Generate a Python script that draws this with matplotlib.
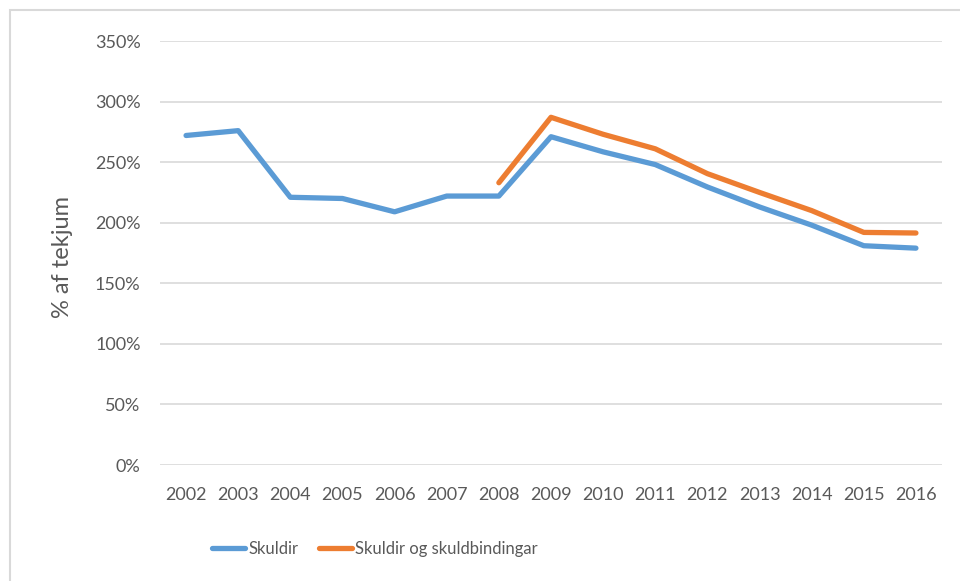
import matplotlib
matplotlib.use("Agg")
import matplotlib.pyplot as plt
from matplotlib.patches import Rectangle
import numpy as np

years = ["2002", "2003", "2004", "2005", "2006", "2007", "2008", "2009",
         "2010", "2011", "2012", "2013", "2014", "2015", "2016"]
skuldir = [272, 276, 221, 220, 209, 222, 222, 271, 258.5, 248, 229.5, 213, 198, 181, 179]
skuldbindingar = [None, None, None, None, None, None, 233, 287, 273, 261, 240.5, 225, 210, 192, 191.5]
yticks = [0, 50, 100, 150, 200, 250, 300, 350]

plt.rcParams['font.family'] = ['Lato', 'DejaVu Sans']
grey = '#595959'

fig = plt.figure(figsize=(9.6, 5.81), dpi=100)
fig.patches.append(Rectangle((10/960, -0.1), 1.2, (581-10)/581 + 0.1, transform=fig.transFigure,
                             fill=False, edgecolor='#D9D9D9', linewidth=1.5))
ax = fig.add_axes([160/960, (581-465)/581, 782/960, 424/581])

x = np.arange(len(years))
y2 = np.array([np.nan if v is None else v for v in skuldbindingar], dtype=float)
ax.plot(x, skuldir, color='#5B9BD5', lw=3.8, solid_capstyle='round', solid_joinstyle='round', label='Skuldir')
ax.plot(x, y2, color='#ED7D31', lw=3.8, solid_capstyle='round', solid_joinstyle='round',
        label='Skuldir og skuldbindingar')

ax.set_xlim(-0.5, len(years) - 0.5)
ax.set_ylim(0, 350)
ax.set_yticks(yticks)
ax.set_yticklabels([f"{v}%" for v in yticks])
ax.set_xticks(x)
ax.set_xticklabels(years)
ax.grid(axis='y', color='#D9D9D9', lw=1.2)
ax.set_axisbelow(True)
for s in ax.spines.values():
    s.set_visible(False)
ax.tick_params(axis='both', length=0, colors=grey, labelsize=13)
ax.tick_params(axis='y', pad=14)
ax.tick_params(axis='x', pad=16)
ax.set_ylabel('% af tekjum', fontsize=17, color=grey)
ax.yaxis.set_label_coords(-(160-73)/782, 0.49)

leg = fig.legend(loc='center', bbox_to_anchor=(375/960, (581-549)/581), ncol=2, frameon=False,
                 fontsize=12, handlelength=2.0, columnspacing=1.2, handletextpad=0.2)
for t in leg.get_texts():
    t.set_color(grey)

fig.savefig('out.png', dpi=100)
